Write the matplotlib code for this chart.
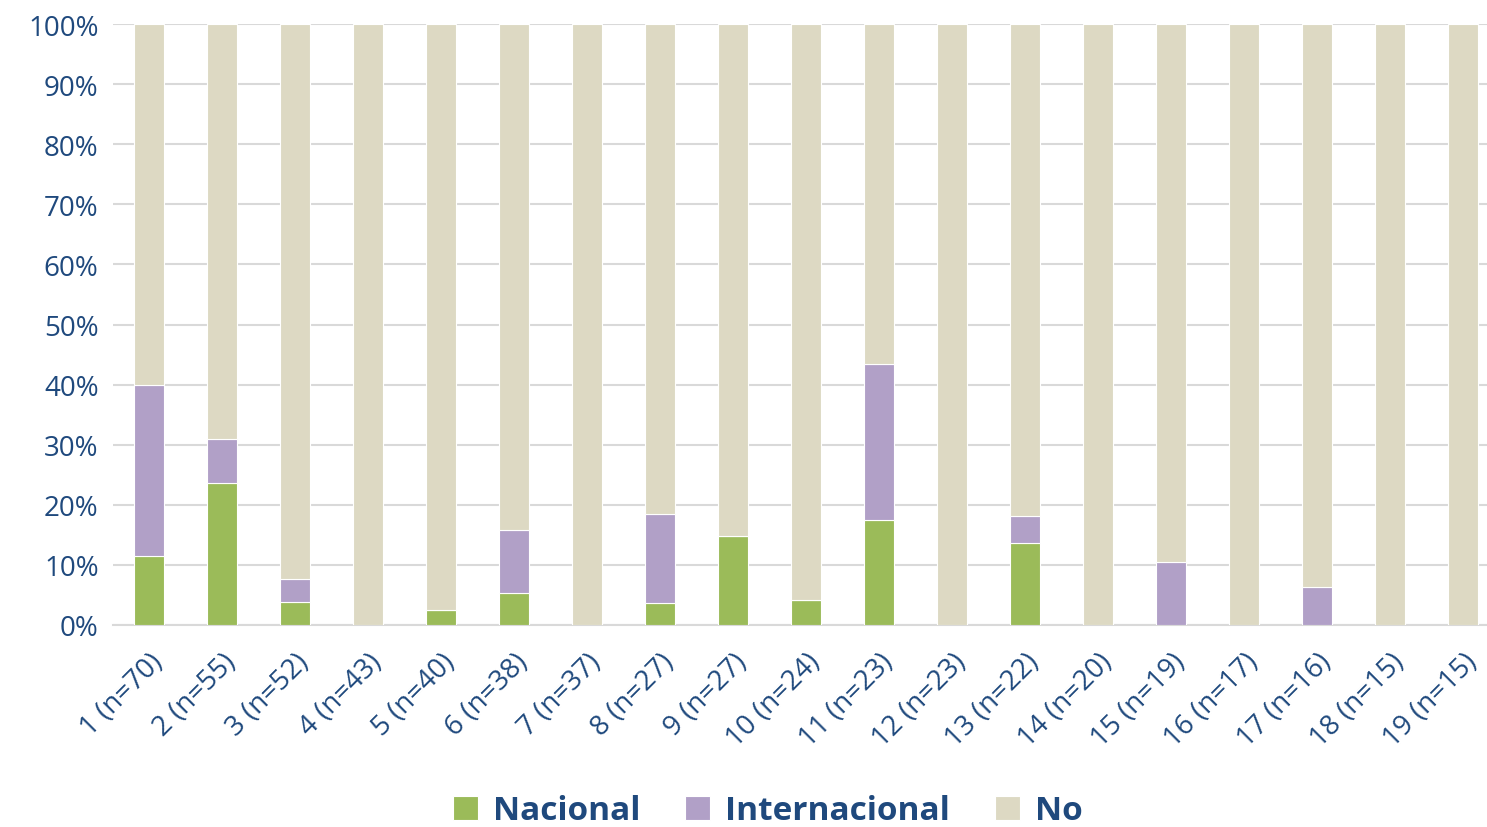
import matplotlib
matplotlib.use('Agg')
import matplotlib.pyplot as plt
import numpy as np

# categorias y valores (porcentajes)
categorias = ['1 (n=70)', '2 (n=55)', '3 (n=52)', '4 (n=43)', '5 (n=40)', '6 (n=38)',
              '7 (n=37)', '8 (n=27)', '9 (n=27)', '10 (n=24)', '11 (n=23)', '12 (n=23)',
              '13 (n=22)', '14 (n=20)', '15 (n=19)', '16 (n=17)', '17 (n=16)', '18 (n=15)',
              '19 (n=15)']
nacional = [11.4, 23.6, 3.8, 0, 2.5, 5.3, 0, 3.7, 14.8, 4.2, 17.4, 0, 13.6, 0, 0, 0, 0, 0, 0]
internacional = [28.6, 7.3, 3.9, 0, 0, 10.5, 0, 14.8, 0, 0, 26.1, 0, 4.6, 0, 10.5, 0, 6.25, 0, 0]
no = [100 - a - b for a, b in zip(nacional, internacional)]

azul = '#1F497D'
plt.rcParams['font.family'] = ['Open Sans', 'DejaVu Sans']

fig = plt.figure(figsize=(14.87, 8.28), dpi=100)
ax = fig.add_axes([112.5/1487, 202/828, (1487-112.5)/1487, 601/828])

x = np.arange(len(categorias))
w = 0.41
ax.bar(x, nacional, w, color='#9BBB59', edgecolor='white', linewidth=0.8, label='Nacional', zorder=3)
ax.bar(x, internacional, w, bottom=nacional, color='#B1A0C7', edgecolor='white', linewidth=0.8,
       label='Internacional', zorder=3)
ax.bar(x, no, w, bottom=np.array(nacional) + np.array(internacional), color='#DDD9C3',
       edgecolor='white', linewidth=0.8, label='No', zorder=3)

ax.set_ylim(0, 100)
ax.set_xlim(-0.5, 18.33)
ax.set_yticks(range(0, 101, 10))
ax.set_yticklabels([f'{v}%' for v in range(0, 101, 10)])
ax.yaxis.grid(True, color='#D9D9D9', linewidth=1.5, zorder=0)
ax.set_xticks(x)
ax.set_xticklabels(categorias, rotation=45, ha='right', rotation_mode='anchor')
ax.tick_params(axis='both', length=0, colors=azul, labelsize=20)
ax.tick_params(axis='x', pad=16)
ax.tick_params(axis='y', pad=10)
for s in ['top', 'right', 'left']:
    ax.spines[s].set_visible(False)
ax.spines['bottom'].set_color('#D9D9D9')
ax.spines['bottom'].set_linewidth(1.5)

leg = fig.legend(loc='center', bbox_to_anchor=(768/1487, 1 - 812/828), ncol=3, frameon=False,
                 prop={'weight': 'bold', 'size': 24}, handlelength=0.75, handleheight=0.75,
                 handletextpad=0.45, columnspacing=1.35)
for t in leg.get_texts():
    t.set_color(azul)

fig.savefig('out.png', dpi=100)
